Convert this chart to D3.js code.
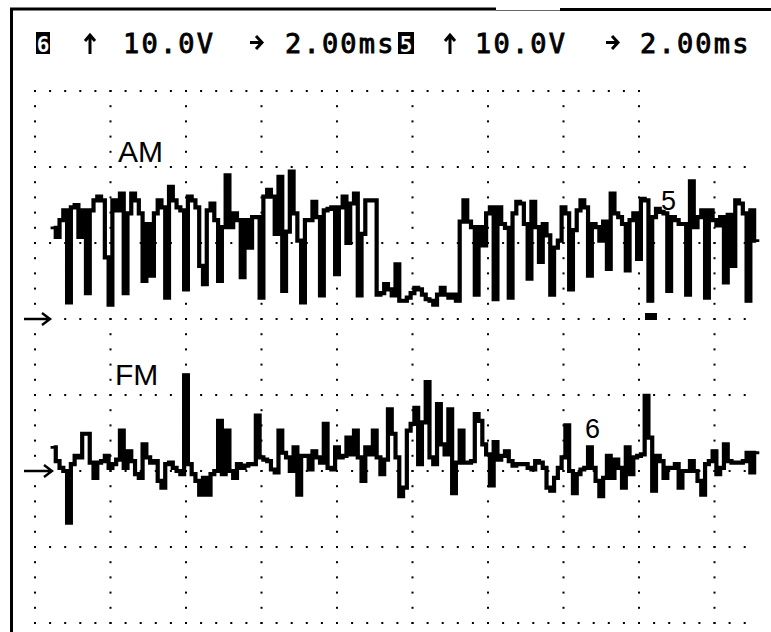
<!DOCTYPE html>
<html>
<head>
<meta charset="utf-8">
<script src="https://cdn.jsdelivr.net/npm/d3@7"></script>
<style>
  html, body { margin: 0; padding: 0; background: #fff; }
  svg { display: block; }
</style>
</head>
<body>
<svg id="scope" width="771" height="632"></svg>
<script>
// Channel readouts shown across the top of the screen
const channelIds = ["6", "5"];
const voltsPerDiv = ["10.0V", "10.0V"];
const timePerDiv = ["2.00ms", "2.00ms"];

// Trace names and channel numbers written on the screen
const traceNames = ["AM", "FM"];
const traceChannels = ["5", "6"];

// Sampling of both traces (ms)
const sampleStart = 0.45;
const sampleStep = 0.1;

// Channel 5 (AM) samples, volts
const amVolts = [
  12.0, 10.8, 13.0, 14.3, 2.2, 14.7, 15.0, 10.8, 14.3, 3.4,
  14.3, 15.6, 16.1, 15.6, 8.1, 1.9, 15.6, 14.3, 16.5, 3.4,
  13.9, 16.5, 15.6, 13.9, 5.0, 12.5, 5.7, 13.9, 15.6, 14.7,
  2.8, 17.4, 15.6, 14.7, 14.3, 3.9, 16.1, 15.6, 14.7, 7.0,
  4.6, 14.3, 15.2, 13.0, 5.0, 12.1, 18.9, 12.1, 13.9, 13.0,
  5.5, 13.0, 9.4, 13.4, 13.4, 2.8, 16.1, 17.0, 16.1, 11.2,
  18.7, 3.7, 11.5, 19.4, 13.9, 10.3, 2.2, 13.0, 13.0, 15.4,
  13.4, 3.1, 14.3, 14.5, 14.7, 5.9, 14.7, 16.1, 10.0, 15.2,
  16.5, 3.1, 11.2, 15.6, 15.6, 15.6, 3.2, 3.4, 4.6, 3.9,
  3.1, 7.2, 2.4, 2.4, 2.8, 3.4, 4.1, 3.9, 3.2, 2.6,
  2.4, 1.9, 3.2, 4.1, 3.2, 2.8, 3.2, 2.4, 12.8, 15.6,
  12.8, 12.1, 3.2, 12.1, 9.7, 13.9, 14.7, 2.6, 14.7, 12.5,
  12.0, 2.8, 13.9, 15.4, 15.2, 12.5, 5.3, 15.4, 12.1, 7.5,
  12.5, 11.0, 3.2, 9.4, 10.3, 14.7, 13.9, 3.9, 11.7, 14.3,
  15.6, 14.7, 5.7, 12.5, 12.1, 10.3, 12.8, 6.6, 16.5, 13.9,
  13.4, 12.5, 6.4, 13.0, 13.9, 7.9, 15.8, 15.6, 2.4, 13.4,
  14.5, 14.1, 13.9, 3.7, 13.4, 13.0, 12.5, 12.5, 3.2, 18.1,
  12.1, 13.4, 14.3, 2.8, 14.3, 13.0, 12.3, 13.4, 4.8, 13.7,
  7.0, 15.6, 15.2, 13.9, 2.4, 14.3, 10.3
];

// Channel 6 (FM) samples, volts
const fmVolts = [
  3.1, 1.3, 0.4, 0.0, -6.8, 0.9, 2.0, 1.8, 4.9, 4.9,
  1.1, -0.9, 1.1, 1.3, 2.0, 0.4, 0.9, 1.5, 5.3, 0.4,
  2.6, 1.3, -0.4, -0.9, 3.5, 1.8, 1.1, 1.3, -1.3, -2.2,
  0.9, 1.1, 0.4, 0.0, -0.4, 12.6, 0.9, -0.4, -1.3, -3.1,
  -0.9, -3.1, -0.4, 0.0, 6.6, -0.4, 5.3, 0.0, -0.9, 0.9,
  0.4, 0.7, 0.9, 0.9, 7.3, 1.8, 1.5, 1.3, 0.2, -0.2,
  5.3, 2.4, 1.8, 0.0, 3.1, -3.1, 2.0, 2.0, 0.2, 2.6,
  1.8, 1.1, 6.2, 0.4, 0.2, 3.1, 1.8, 2.0, 4.4, 2.2,
  5.3, 1.8, -1.3, 3.1, 2.2, 5.3, 1.8, -0.4, 1.5, 8.1,
  4.9, 1.8, -3.3, -2.2, 5.3, 6.2, 8.3, 0.9, 6.4, 11.7,
  1.8, 0.9, 8.8, 3.5, 2.2, 8.1, -2.9, 1.1, 5.3, 1.1,
  1.1, 1.3, 7.5, 6.6, 3.5, 2.2, -1.9, 3.8, 1.5, 2.0,
  2.6, 1.3, 0.7, 0.9, 0.9, 0.9, 0.4, 0.2, 1.3, 1.1,
  0.4, -2.2, -2.6, -0.9, 0.4, 1.8, 6.0, 0.0, -2.9, -0.4,
  0.2, 0.4, 3.1, 0.4, -1.3, -3.3, -0.9, 2.0, -0.9, 1.5,
  0.4, -2.2, 3.1, -0.4, 1.8, 2.0, 2.2, 9.9, 4.4, -2.6,
  2.0, 1.3, -0.9, 0.4, 0.4, 0.9, -2.2, 0.0, 0.0, 1.3,
  0.0, -1.3, -3.1, 0.9, 1.3, 2.6, -0.4, 0.4, 3.5, 1.3,
  1.1, 1.1, 1.1, 1.3, 2.4, -0.2, 2.4
];

const svg = d3.select("#scope");
const W = 771, H = 632;
const ink = "#000";

// Time base: 2 ms per division, 10 divisions across
const x = d3.scaleLinear().domain([0, 20]).range([35, 790]);
// Screen divisions top to bottom
const div = d3.scaleLinear().domain([0, 7]).range([91, 623]);
// Per-channel vertical scales, 10 V per division, zero at each channel's ground marker
const yAM = d3.scaleLinear().domain([0, 10]).range([div(3), div(2)]);
const yFM = d3.scaleLinear().domain([0, 10]).range([div(5), div(4)]);

svg.append("rect").attr("width", W).attr("height", H).attr("fill", "#fff");

// Bezel edges
const frame = svg.append("g").attr("stroke", ink).attr("fill", "none");
frame.append("line").attr("x1", 11.5).attr("x2", 11.5).attr("y1", 8).attr("y2", H).attr("stroke-width", 3);
frame.append("line").attr("x1", 10).attr("x2", 496).attr("y1", 9).attr("y2", 9).attr("stroke-width", 3);
frame.append("line").attr("x1", 496).attr("x2", 560).attr("y1", 10.5).attr("y2", 10.5).attr("stroke-width", 1).attr("stroke", "#666");
frame.append("line").attr("x1", 560).attr("x2", W).attr("y1", 9.5).attr("y2", 9.5).attr("stroke-width", 3);

// Dotted graticule
const dots = [];
d3.range(0, 8).forEach(r => {
  const n = r === 0 ? 41 : 48;
  d3.range(0, n).forEach(k => dots.push([x(k * 0.4), div(r)]));
});
d3.range(0, 10).forEach(c => {
  const first = c === 9 ? 5 : 0;
  d3.range(first, 36).forEach(k => dots.push([x(c * 2), div(k / 5)]));
});
svg.append("g").selectAll("rect").data(dots).join("rect")
  .attr("x", d => d[0] - 1).attr("y", d => d[1] - 1)
  .attr("width", 2).attr("height", 2).attr("fill", ink);

// Header readout
const mono = "'DejaVu Sans Mono', 'Liberation Mono', monospace";
const header = svg.append("g").attr("font-family", mono).attr("font-size", 27)
  .attr("fill", ink).attr("letter-spacing", 2.2);
const headerX = [
  { box: 36, boxW: 14, up: 90, volts: 123, right: 256, time: 285 },
  { box: 398, boxW: 16, up: 450, volts: 475, right: 612, time: 640 }
];
const arrows = svg.append("g").attr("stroke", ink).attr("stroke-width", 3).attr("fill", "none")
  .attr("stroke-linecap", "butt").attr("stroke-linejoin", "miter");
channelIds.forEach((id, i) => {
  const h = headerX[i];
  header.append("rect").attr("x", h.box).attr("y", 32).attr("width", h.boxW).attr("height", 22).attr("fill", ink);
  header.append("text").attr("x", h.box + h.boxW / 2).attr("y", 51.5).attr("text-anchor", "middle")
    .attr("font-size", 21).attr("letter-spacing", 0).attr("font-weight", "bold").attr("fill", "#fff").text(id);
  header.append("text").attr("x", h.volts).attr("y", 53).attr("stroke", ink).attr("stroke-width", 0.9).text(voltsPerDiv[i]);
  header.append("text").attr("x", h.time).attr("y", 53).attr("stroke", ink).attr("stroke-width", 0.9).text(timePerDiv[i]);
  // up arrow (volts/div) and right arrow (time/div)
  arrows.append("path").attr("d", `M${h.up},54V35M${h.up - 5},41L${h.up},35L${h.up + 5},41`);
  arrows.append("path").attr("d", `M${h.right - 6},42.5H${h.right + 5}M${h.right},36L${h.right + 6},42.5L${h.right},49`);
});

// Ground markers on the left edge
const markers = svg.append("g").attr("stroke", ink).attr("stroke-width", 2.4).attr("fill", "none");
[[yAM(0), 50], [yFM(0), 52]].forEach(([gy, tip]) => {
  markers.append("path").attr("d", `M24,${gy}H${tip}M${tip - 8},${gy - 6}L${tip},${gy}L${tip - 8},${gy + 6}`);
});

// Trigger position marker
svg.append("rect").attr("x", 645).attr("y", 313).attr("width", 12).attr("height", 7).attr("fill", ink);

// Traces: step outline plus heavier vertical edges, as on the scope display
function tracePoints(values) {
  const pts = values.map((v, i) => [sampleStart + i * sampleStep, v]);
  pts.push([sampleStart + values.length * sampleStep, values[values.length - 1]]);
  return pts;
}
const traces = [
  { values: amVolts, y: yAM },
  { values: fmVolts, y: yFM }
];
traces.forEach(tr => {
  const pts = tracePoints(tr.values);
  const line = d3.line().x(d => x(d[0])).y(d => tr.y(d[1])).curve(d3.curveStepAfter);
  svg.append("path").attr("d", line(pts))
    .attr("fill", "none").attr("stroke", ink).attr("stroke-width", 2.8)
    .attr("stroke-linejoin", "miter").attr("stroke-linecap", "square");
  const edges = d3.range(1, tr.values.length).map(i => {
    const t = sampleStart + i * sampleStep;
    return `M${x(t)},${tr.y(tr.values[i - 1])}V${tr.y(tr.values[i])}`;
  }).join("");
  svg.append("path").attr("d", edges).attr("fill", "none").attr("stroke", ink)
    .attr("stroke-width", 4.2).attr("stroke-linecap", "square");
});

// Trace names and channel numbers
const sans = "'Liberation Sans', Arial, sans-serif";
const names = svg.append("g").attr("font-family", sans).attr("fill", ink);
names.append("text").attr("x", 118).attr("y", 162).attr("font-size", 30).text(traceNames[0]);
names.append("text").attr("x", 115).attr("y", 385).attr("font-size", 30).text(traceNames[1]);
names.append("text").attr("x", 661).attr("y", 210).attr("font-size", 27).text(traceChannels[0]);
names.append("text").attr("x", 585).attr("y", 438).attr("font-size", 27).text(traceChannels[1]);
</script>
</body>
</html>
